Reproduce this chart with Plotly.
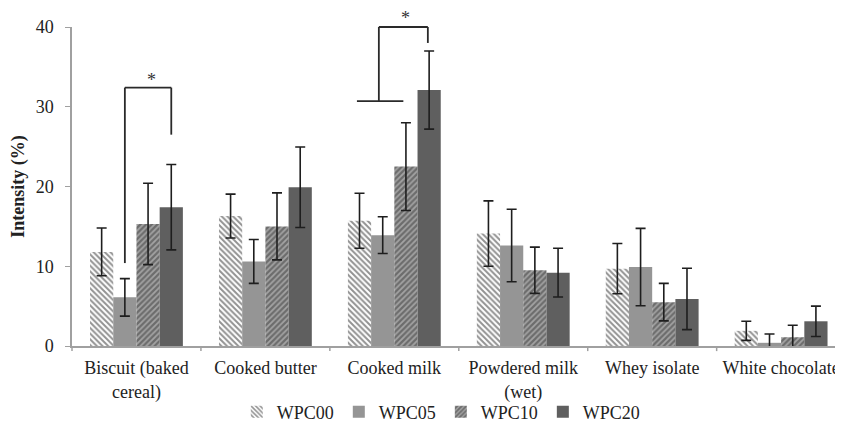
import plotly.graph_objects as go

categories = ["Biscuit (baked<br>cereal)", "Cooked butter", "Cooked milk",
              "Powdered milk<br>(wet)", "Whey isolate", "White chocolate"]
series_names = ["WPC00", "WPC05", "WPC10", "WPC20"]

wpc00 = [11.8, 16.3, 15.7, 14.1, 9.7, 1.9]
wpc05 = [6.1, 10.6, 13.9, 12.6, 9.9, 0.4]
wpc10 = [15.3, 15.0, 22.5, 9.5, 5.5, 1.1]
wpc20 = [17.4, 19.9, 32.1, 9.2, 5.9, 3.1]

err00 = [3.0, 2.75, 3.45, 4.1, 3.15, 1.2]
err05 = [2.35, 2.75, 2.3, 4.55, 4.85, 1.1]
err10 = [5.1, 4.2, 5.5, 2.9, 2.35, 1.5]
err20 = [5.35, 5.05, 4.9, 3.05, 3.85, 1.9]

y_ticks = [0, 10, 20, 30, 40]

FONT = "Liberation Serif, Times New Roman, serif"
TXT = "#222222"
X_RANGE = [-0.5, 5.48]
Y_RANGE = [0, 40]

# the page body adds an 8px offset; the figure is sized to fill the rest of the window
FIG_W, FIG_H = 835, 416

fig = go.Figure()

styles = [
    dict(color="white", pattern=dict(shape="\\", fgcolor="#262626", bgcolor="white", size=4, solidity=0.5)),
    dict(color="#959595"),
    dict(color="#8c8c8c", pattern=dict(shape="/", fgcolor="#353535", bgcolor="#a3a3a3", size=4, solidity=0.55)),
    dict(color="#5f5f5f"),
]
values = [wpc00, wpc05, wpc10, wpc20]
errors = [err00, err05, err10, err20]

for name, vals, errs, st in zip(series_names, values, errors, styles):
    marker = dict(color=st["color"], line=dict(width=0))
    if "pattern" in st:
        marker["pattern"] = st["pattern"]
    fig.add_trace(go.Bar(
        x=list(range(len(categories))), y=vals, name=name, marker=marker,
        error_y=dict(type="data", array=errs, visible=True, color="#1e1e1e",
                     thickness=1.6, width=5),
    ))

# significance brackets (data coordinates), converted to paper coordinates
def px(xd):
    return (xd - X_RANGE[0]) / (X_RANGE[1] - X_RANGE[0])

def py(yd):
    return (yd - Y_RANGE[0]) / (Y_RANGE[1] - Y_RANGE[0])

bracket_segments = [
    # Biscuit: WPC05 -> WPC20
    ((-0.09, 10.4), (-0.09, 32.4)),
    ((-0.09, 32.4), (0.27, 32.4)),
    ((0.27, 32.4), (0.27, 26.5)),
    # Cooked milk
    ((1.71, 30.7), (2.07, 30.7)),
    ((1.88, 30.7), (1.88, 40.0)),
    ((1.88, 40.0), (2.26, 40.0)),
    ((2.26, 40.0), (2.26, 38.0)),
]
for (x0, y0), (x1, y1) in bracket_segments:
    fig.add_shape(type="line", xref="paper", yref="paper",
                  x0=px(x0), y0=py(y0), x1=px(x1), y1=py(y1),
                  line=dict(color="#2a2a2a", width=1.8))

stars = [(0.116, 33.4), (2.09, 41.1)]
for sx, sy in stars:
    fig.add_annotation(x=px(sx), y=py(sy), xref="paper", yref="paper", text="*",
                       xanchor="center", yanchor="middle",
                       showarrow=False, font=dict(family=FONT, size=18, color="#333333"))

fig.update_layout(
    width=FIG_W, height=FIG_H,
    margin=dict(l=64, r=0, t=19, b=78, autoexpand=False),
    paper_bgcolor="white", plot_bgcolor="white",
    barmode="group", bargap=0.28, bargroupgap=0,
    font=dict(family=FONT, size=18, color=TXT),
    showlegend=True,
    legend=dict(orientation="h", xref="container", yref="container",
                x=0.274, xanchor="left", y=0.029, yanchor="middle",
                font=dict(family=FONT, size=18, color=TXT),
                itemwidth=30, traceorder="normal", bgcolor="rgba(0,0,0,0)"),
    xaxis=dict(
        tickmode="array", tickvals=list(range(len(categories))), ticktext=categories,
        range=X_RANGE, showline=True, linecolor="#a0a0a0", linewidth=1.5,
        ticks="", showgrid=False, zeroline=False, automargin=False,
        ticklabelstandoff=5, ticklabeloverflow="allow",
        tickfont=dict(family=FONT, size=18, color=TXT),
    ),
    yaxis=dict(
        range=Y_RANGE, tickvals=y_ticks, showline=True, linecolor="#a0a0a0", linewidth=1.5,
        ticks="outside", ticklen=5, tickcolor="#a0a0a0", showgrid=False, zeroline=False,
        automargin=False, ticklabelstandoff=8,
        tickfont=dict(family=FONT, size=18, color=TXT),
        title=dict(text="<b>Intensity (%)</b>", font=dict(family=FONT, size=18, color=TXT),
                   standoff=8),
    ),
)

# category boundary tick marks on x-axis
for b in range(len(categories)):
    xb = b - 0.5
    fig.add_shape(type="line", xref="paper", yref="paper",
                  x0=px(xb), x1=px(xb), y0=0, y1=-0.016,
                  line=dict(color="#a0a0a0", width=1.5))

fig.write_html("out.html")
